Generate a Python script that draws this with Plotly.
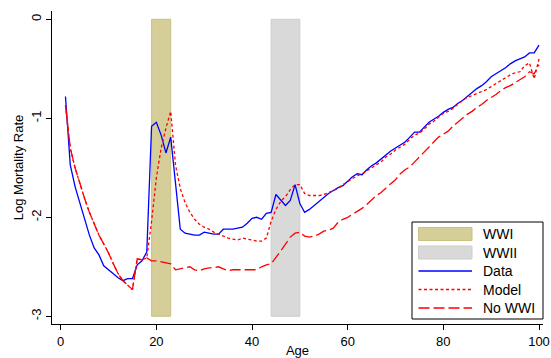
import plotly.graph_objects as go

# Age in years
ages = list(range(1, 101))

# Observed log mortality rate by age
data_rate = [
    -0.78, -1.47, -1.69, -1.86, -2.03, -2.18, -2.31, -2.38, -2.49, -2.53,
    -2.57, -2.61, -2.64, -2.62, -2.62, -2.48, -2.44, -2.35, -1.08, -1.04,
    -1.17, -1.35, -1.19, -1.68, -2.12, -2.16, -2.17, -2.18, -2.18, -2.15,
    -2.16, -2.17, -2.17, -2.12, -2.12, -2.12, -2.11, -2.10, -2.06, -2.01,
    -2.00, -2.02, -1.96, -1.95, -1.77, -1.83, -1.88, -1.83, -1.67, -1.86,
    -1.95, -1.92, -1.88, -1.84, -1.80, -1.76, -1.73, -1.70, -1.68, -1.63,
    -1.59, -1.56, -1.57, -1.52, -1.48, -1.45, -1.41, -1.37, -1.33, -1.30,
    -1.27, -1.24, -1.19, -1.14, -1.14, -1.09, -1.04, -1.01, -0.98, -0.94,
    -0.91, -0.89, -0.85, -0.82, -0.78, -0.74, -0.70, -0.67, -0.63, -0.58,
    -0.55, -0.52, -0.49, -0.45, -0.42, -0.40, -0.38, -0.34, -0.34, -0.26,
]

# Model-implied log mortality rate
model_rate = [
    -0.87, -1.30, -1.50, -1.66, -1.81, -1.95, -2.07, -2.18, -2.27, -2.36,
    -2.47, -2.57, -2.64, -2.69, -2.73, -2.42, -2.43, -2.41, -2.04, -1.60,
    -1.30, -1.10, -0.93, -1.47, -1.71, -1.85, -1.95, -2.02, -2.07, -2.10,
    -2.12, -2.15, -2.17, -2.19, -2.21, -2.22, -2.23, -2.21, -2.22, -2.23,
    -2.24, -2.24, -2.21, -2.04, -1.92, -1.84, -1.79, -1.72, -1.67, -1.67,
    -1.76, -1.78, -1.78, -1.78, -1.77, -1.75, -1.73, -1.71, -1.67, -1.64,
    -1.61, -1.58, -1.56, -1.53, -1.50, -1.47, -1.44, -1.39, -1.36, -1.32,
    -1.29, -1.26, -1.21, -1.17, -1.15, -1.11, -1.06, -1.03, -0.99, -0.95,
    -0.93, -0.90, -0.86, -0.82, -0.79, -0.77, -0.75, -0.73, -0.71, -0.68,
    -0.65, -0.62, -0.59, -0.56, -0.54, -0.53, -0.47, -0.44, -0.60, -0.40,
]

# Counterfactual: model without the First World War
no_wwi_rate = [
    -0.87, -1.30, -1.50, -1.66, -1.81, -1.95, -2.07, -2.18, -2.27, -2.36,
    -2.47, -2.57, -2.64, -2.69, -2.73, -2.42, -2.43, -2.41, -2.44, -2.44,
    -2.45, -2.46, -2.47, -2.53, -2.52, -2.51, -2.50, -2.53, -2.54, -2.52,
    -2.51, -2.51, -2.50, -2.52, -2.54, -2.53, -2.53, -2.53, -2.53, -2.53,
    -2.53, -2.50, -2.48, -2.47, -2.41, -2.34, -2.27, -2.20, -2.16, -2.15,
    -2.19, -2.20, -2.19, -2.17, -2.14, -2.13, -2.11, -2.05, -2.02, -2.00,
    -1.97, -1.94, -1.91, -1.87, -1.82, -1.78, -1.75, -1.70, -1.66, -1.62,
    -1.56, -1.52, -1.49, -1.44, -1.39, -1.35, -1.30, -1.25, -1.19, -1.16,
    -1.13, -1.08, -1.04, -1.00, -0.96, -0.93, -0.89, -0.86, -0.82, -0.79,
    -0.76, -0.72, -0.69, -0.67, -0.64, -0.61, -0.58, -0.53, -0.55, -0.46,
]

# Ages at which each war was experienced, and the shaded vertical extent
wwi_ages = [19, 23]
wwii_ages = [44, 50]
band_rates = [-3, 0]

x_ticks = [0, 20, 40, 60, 80, 100]
y_ticks = [0, -1, -2, -3]
y_tick_labels = ["0", "-1", "-2", "-3"]

legend_labels = ["WWI", "WWII", "Data", "Model", "No WWI"]

WWI_FILL, WWI_EDGE = "#d5ce98", "#c9c183"
WWII_FILL, WWII_EDGE = "#d9d9d9", "#cdcdcd"
BLUE = "#0000ff"
RED = "#ff0000"
MODEL_DASH = "3px,2.5px"
NOWWI_DASH = "11px,4px"

fig = go.Figure()

fig.add_trace(go.Scatter(x=ages, y=data_rate, mode="lines", name="Data",
                         line=dict(color=BLUE, width=1.3)))
fig.add_trace(go.Scatter(x=ages, y=model_rate, mode="lines", name="Model",
                         line=dict(color=RED, width=1.3, dash=MODEL_DASH)))
fig.add_trace(go.Scatter(x=ages, y=no_wwi_rate, mode="lines", name="No WWI",
                         line=dict(color=RED, width=1.3, dash=NOWWI_DASH)))

# War periods shaded behind the curves
for span, fill, edge in [(wwi_ages, WWI_FILL, WWI_EDGE), (wwii_ages, WWII_FILL, WWII_EDGE)]:
    fig.add_shape(type="rect", xref="x", yref="y", layer="below",
                  x0=span[0], x1=span[1], y0=band_rates[0], y1=band_rates[1],
                  fillcolor=fill, line=dict(color=edge, width=1))

# Plot area in pixels, used to place the boxed key
PL, PR, PT, PB = 52, 543, 11, 324


def px(xp, yp):
    return (xp - PL) / (PR - PL), (PB - yp) / (PB - PT)


def add_rect(x0p, y0p, x1p, y1p, fill, edge, width=1):
    a = px(x0p, y0p)
    b = px(x1p, y1p)
    fig.add_shape(type="rect", xref="paper", yref="paper",
                  x0=a[0], y0=a[1], x1=b[0], y1=b[1],
                  fillcolor=fill, line=dict(color=edge, width=width))


def add_seg(x0p, x1p, yp, color, dash):
    a = px(x0p, yp)
    b = px(x1p, yp)
    fig.add_shape(type="line", xref="paper", yref="paper",
                  x0=a[0], y0=a[1], x1=b[0], y1=b[1],
                  line=dict(color=color, width=1.3, dash=dash))


# Key box
add_rect(412, 222, 543, 319, "white", "black", 1)
row_y = [234, 252.5, 271, 289.5, 308]
sw_x0, sw_x1 = 418.5, 472
add_rect(sw_x0, row_y[0] - 6.5, sw_x1, row_y[0] + 6.5, WWI_FILL, WWI_EDGE)
add_rect(sw_x0, row_y[1] - 6.5, sw_x1, row_y[1] + 6.5, WWII_FILL, WWII_EDGE)
add_seg(sw_x0, sw_x1, row_y[2], BLUE, "solid")
add_seg(sw_x0, sw_x1, row_y[3], RED, MODEL_DASH)
add_seg(sw_x0, sw_x1, row_y[4], RED, NOWWI_DASH)
for label, yp in zip(legend_labels, row_y):
    xa, ya = px(481, yp)
    fig.add_annotation(x=xa, y=ya, xref="paper", yref="paper", text=label,
                       showarrow=False, xanchor="left", yanchor="middle",
                       font=dict(size=14, color="black"))

fig.update_layout(
    width=551, height=358,
    margin=dict(l=PL, r=551 - PR, t=PT, b=358 - PB, autoexpand=False),
    plot_bgcolor="white", paper_bgcolor="white",
    showlegend=False,
    font=dict(family="Liberation Sans, Arial, Helvetica, sans-serif", color="black", size=13),
)
fig.update_xaxes(
    range=[(PL - 60.7) / 4.783, (PR - 60.7) / 4.783],
    tickvals=x_ticks, ticks="outside", ticklen=5, tickwidth=1, tickcolor="black",
    showline=True, linecolor="black", linewidth=1, showgrid=False, zeroline=False,
    tickfont=dict(size=13), automargin=False,
    title=dict(text="Age", font=dict(size=13), standoff=7),
)
fig.update_yaxes(
    range=[(19.3 - PB) / 99, (19.3 - PT) / 99],
    tickvals=y_ticks, ticktext=y_tick_labels, tickangle=-90,
    ticks="outside", ticklen=5, tickwidth=1, tickcolor="black",
    showline=True, linecolor="black", linewidth=1, showgrid=False, zeroline=False,
    tickfont=dict(size=13), automargin=False,
    title=dict(text="Log Mortality Rate", font=dict(size=13), standoff=2),
)

fig.write_html("out.html")
